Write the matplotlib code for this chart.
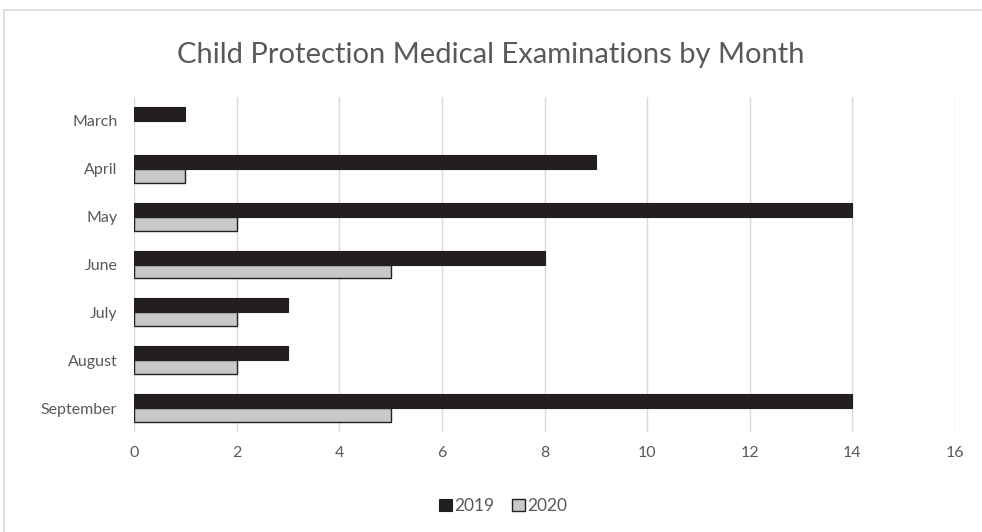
import matplotlib
matplotlib.use("Agg")
import matplotlib.pyplot as plt
from matplotlib.patches import Rectangle
import numpy as np

months = ["March", "April", "May", "June", "July", "August", "September"]
vals_2019 = [1, 9, 14, 8, 3, 3, 14]
vals_2020 = [0, 1, 2, 5, 2, 2, 5]
x_ticks = [0, 2, 4, 6, 8, 10, 12, 14, 16]

plt.rcParams['font.family'] = ['Lato', 'DejaVu Sans']
txt = '#595959'

fig = plt.figure(figsize=(9.82, 5.32), dpi=100)
fig.patches.append(Rectangle((4/982, -0.01), 1.0, 1 - 10/532 + 0.01,
                             transform=fig.transFigure, fill=False,
                             edgecolor='#d9d9d9', linewidth=1.2))
ax = fig.add_axes([134/982, 1 - 432/532, (955 - 134)/982, (432 - 97)/532])

y = np.arange(len(months))
h = 0.29
ax.barh(y - h/2, vals_2019, height=h, color='#231f20', edgecolor='#231f20',
        linewidth=0.8, label='2019', zorder=3)
# zero values get no bar at all (no stray edge line)
lw_2020 = [1.0 if v > 0 else 0 for v in vals_2020]
ax.barh(y + h/2, vals_2020, height=h, color='#c8c8c8', edgecolor='#231f20',
        linewidth=lw_2020, label='2020', zorder=3)

ax.set_ylim(len(months) - 0.5, -0.5)
ax.set_xlim(0, 16)
ax.set_xticks(x_ticks)
ax.set_yticks(y)
ax.set_yticklabels(months)
ax.tick_params(length=0, colors=txt, labelsize=11.5, pad=10)
ax.tick_params(axis='y', pad=12)
ax.grid(axis='x', color='#d9d9d9', linewidth=1.0, zorder=0)
for s in ax.spines.values():
    s.set_visible(False)

fig.text(0.5, 1 - 55/532, "Child Protection Medical Examinations by Month",
         ha='center', va='center', fontsize=21, color=txt)

handles, labels = ax.get_legend_handles_labels()
leg = fig.legend(handles, labels, loc='center', bbox_to_anchor=(503/982, 1 - 506/532),
                 ncol=2, frameon=False, fontsize=12.5, handlelength=0.75,
                 handleheight=0.75, handletextpad=0.15, columnspacing=1.0)
for t in leg.get_texts():
    t.set_color(txt)
leg.legend_handles[1].set_linewidth(1.0)

fig.savefig("out.png", dpi=100)
